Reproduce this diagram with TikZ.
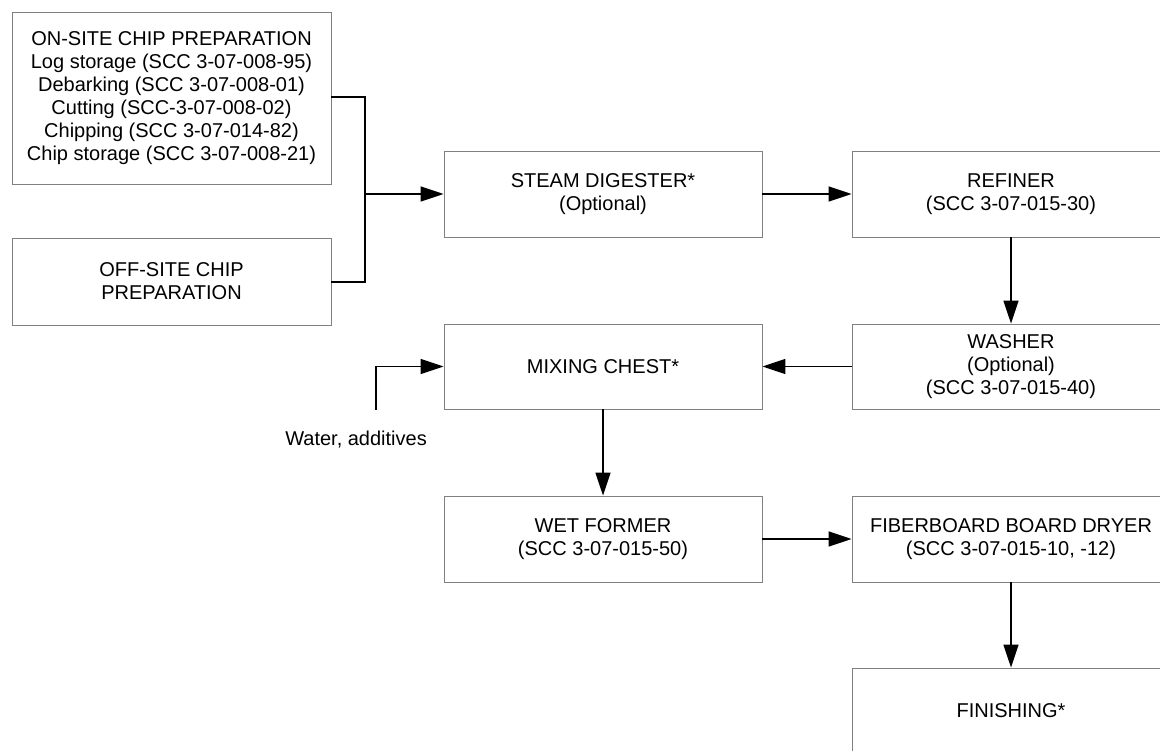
\documentclass[tikz,border=0pt]{standalone}
\usepackage{fontspec}
\setmainfont{Liberation Sans}
\usetikzlibrary{arrows.meta}
\begin{document}
\begin{tikzpicture}[x=1pt,y=-1pt,
  box/.style={draw=black!50, line width=0.9pt, align=center, inner sep=0pt,
    minimum width=318pt, minimum height=86pt, font=\fontsize{20}{23}\selectfont},
  conn/.style={line width=1.6pt, draw=black},
  arr/.style={conn, -{Triangle[length=23pt,width=15pt]}},
  lbl/.style={font=\fontsize{20}{23}\selectfont, inner sep=0pt}]
\path[use as bounding box] (0,0) rectangle (1160,751);
\clip (0,0) rectangle (1160,751);
\fill[white] (0,0) rectangle (1160,751);

\node[box, minimum width=319pt, minimum height=172pt] (onsite) at (171.5,98)
  {ON-SITE CHIP PREPARATION\\Log storage (SCC 3-07-008-95)\\Debarking (SCC 3-07-008-01)\\Cutting (SCC-3-07-008-02)\\Chipping (SCC 3-07-014-82)\\Chip storage (SCC 3-07-008-21)};
\node[box, minimum width=319pt, minimum height=87pt] (offsite) at (171.5,281.5)
  {OFF-SITE CHIP\\PREPARATION};
\node[box] (steam) at (603,194) {STEAM DIGESTER*\\(Optional)};
\node[box] (refiner) at (1011,194) {REFINER\\(SCC 3-07-015-30)};
\node[box, minimum height=85pt] (washer) at (1011,366.5) {WASHER\\(Optional)\\(SCC 3-07-015-40)};
\node[box, minimum height=85pt] (mixing) at (603,366.5) {MIXING CHEST*};
\node[box] (wet) at (603,539) {WET FORMER\\(SCC 3-07-015-50)};
\node[box] (dryer) at (1011,539) {FIBERBOARD BOARD DRYER\\(SCC 3-07-015-10, -12)};
\node[box] (finish) at (1011,711) {FINISHING*};

\node[lbl, anchor=base east] (water) at (427,445) {Water, additives};

\coordinate (j) at (365,194);
\coordinate (w) at (376,410);

\draw[conn] (onsite.east |- 0,97) -| (j);
\draw[conn] (offsite.east |- 0,282) -| (j);
\draw[arr] (j) -- (steam.west);
\draw[arr] (steam) -- (refiner);
\draw[arr] (refiner) -- (washer);
\draw[arr] (washer) -- (mixing);
\draw[arr] (w) |- (mixing.west);
\draw[arr] (mixing) -- (wet);
\draw[arr] (wet) -- (dryer);
\draw[arr] (dryer) -- (finish);
\end{tikzpicture}
\end{document}
